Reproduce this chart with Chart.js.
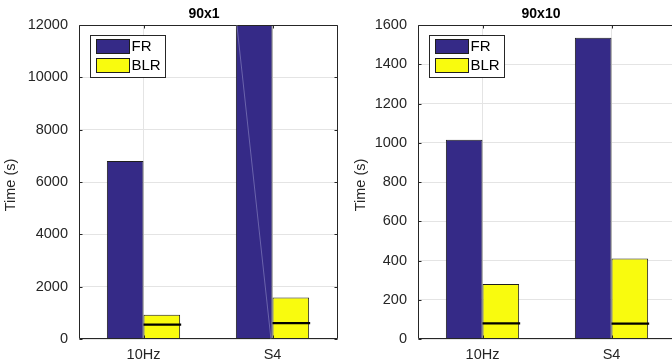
<!DOCTYPE html>
<html><head><meta charset="utf-8">
<script src="https://cdn.jsdelivr.net/npm/chart.js@4"></script>
<style>
html,body{margin:0;padding:0;background:#fff;overflow:hidden;width:672px;height:359px;}
#wrap{position:relative;width:672px;height:359px;overflow:hidden;background:#fff;}
canvas{position:absolute;top:0;}
</style></head><body>
<div id="wrap">
<canvas id="c1" width="340" height="359" style="left:0;width:340px;height:359px"></canvas>
<canvas id="c1o" width="340" height="359" style="left:0;width:340px;height:359px"></canvas>
<canvas id="c2" width="340" height="359" style="left:339px;width:340px;height:359px"></canvas>
<canvas id="c2o" width="340" height="359" style="left:339px;width:340px;height:359px"></canvas>
</div>
<script>
// ---- data ----
const categories = ['10Hz', 'S4'];
const seriesNames = ['FR', 'BLR'];
const fr90x1 = [6800, 13500];      // S4 bar exceeds the axis limit (clipped)
const blr90x1 = [930, 1590];
const blrMid90x1 = [550, 610];     // black marker line inside BLR bars
const fr90x10 = [1015, 1535];
const blr90x10 = [280, 410];
const blrMid90x10 = [80, 78];
const panelTitles = ['90x1', '90x10'];
const yMaxes = [12000, 1600];
const ySteps = [2000, 200];
const yLabelText = 'Time (s)';

// ---- styles ----
const FONT = '"Liberation Sans", Arial, Helvetica, sans-serif';
const INK = '#262626';
const GRID = '#e4e4e4';
const FR_COLOR = '#352a87';
const BLR_COLOR = '#f9fb0e';
const EDGE = '#1e1e1e';
const CAT_PCT = 0.568;
const BAR_FRAC = CAT_PCT / 2;   // width of one bar in category units
const MID_LEN = 0.292;
const PAD = { top: 25, right: 3, left: 0, bottom: 0 };
const Y_AXIS_W = 79, X_AXIS_H = 20;
const TICK_FONT = { family: FONT, size: 14.5 };

function decoPlugin(p) {
  return {
    id: 'deco',
    afterDatasetsDraw(chart) {
      const ctx = chart.ctx, a = chart.chartArea;
      const xs = chart.scales.x, ys = chart.scales.y;
      ctx.save();
      const L = Math.round(a.left) + 0.5, R = Math.round(a.right) + 0.5;
      const T = Math.round(a.top) + 0.5, B = Math.round(a.bottom) - 0.5;
      ctx.strokeStyle = INK; ctx.lineWidth = 1;
      ctx.beginPath();
      ctx.moveTo(L, T); ctx.lineTo(R, T); ctx.lineTo(R, B); ctx.lineTo(L, B); ctx.closePath();
      ctx.stroke();
      ctx.beginPath();
      ys.ticks.forEach(t => {
        const y = Math.round(ys.getPixelForValue(t.value)) + 0.5;
        ctx.moveTo(L, y); ctx.lineTo(L + 3, y);
        ctx.moveTo(R, y); ctx.lineTo(R - 3, y);
      });
      categories.forEach((c, i) => {
        const x = Math.round(xs.getPixelForValue(i)) + 0.5;
        ctx.moveTo(x, B); ctx.lineTo(x, B - 3);
        ctx.moveTo(x, T); ctx.lineTo(x, T + 3);
      });
      ctx.stroke();
      // title
      ctx.fillStyle = '#000';
      ctx.font = 'bold 14px ' + FONT;
      ctx.textAlign = 'center'; ctx.textBaseline = 'middle';
      ctx.fillText(p.title, (a.left + a.right) / 2 + p.titleDx, 14);
      // y label
      ctx.save();
      ctx.translate(p.ylabelX, (a.top + a.bottom) / 2 + 3);
      ctx.rotate(-Math.PI / 2);
      ctx.fillStyle = INK;
      ctx.font = '14.5px ' + FONT;
      ctx.fillText(yLabelText, 0, 0);
      ctx.restore();
      // legend
      const bx = Math.round(a.left) + 11.5, by = Math.round(a.top) + 10.5;
      ctx.fillStyle = '#fff';
      ctx.fillRect(bx, by, 75, 42);
      ctx.strokeStyle = INK;
      ctx.strokeRect(bx, by, 75, 42);
      chart.data.datasets.forEach((d, k) => {
        const sy = by + 4 + k * 19;
        ctx.fillStyle = d.backgroundColor;
        ctx.fillRect(bx + 6, sy, 33, 14);
        ctx.strokeStyle = EDGE;
        ctx.strokeRect(bx + 6, sy, 33, 14);
        ctx.fillStyle = '#000';
        ctx.font = '15px ' + FONT;
        ctx.textAlign = 'left'; ctx.textBaseline = 'middle';
        ctx.fillText(d.label, bx + 41, sy + 7.5);
      });
      ctx.restore();
    }
  };
}

function buildBars(id, fr, blr, idx, p) {
  const yMax = yMaxes[idx];
  const mk = (label, data, color) => ({ label, data, backgroundColor: color, borderColor: EDGE,
      borderWidth: 1, categoryPercentage: CAT_PCT, barPercentage: 1 });
  return new Chart(document.getElementById(id), {
    type: 'bar',
    data: { labels: categories, datasets: [mk(seriesNames[0], fr, FR_COLOR), mk(seriesNames[1], blr, BLR_COLOR)] },
    options: {
      responsive: false, animation: false, devicePixelRatio: 1,
      layout: { padding: PAD },
      plugins: { legend: { display: false }, tooltip: { enabled: false }, title: { display: false } },
      scales: {
        x: { type: 'category', offset: true,
             grid: { offset: false, color: GRID, drawTicks: false },
             border: { display: false },
             ticks: { color: INK, font: TICK_FONT, padding: 7, maxRotation: 0 },
             afterFit(s) { s.height = X_AXIS_H; } },
        y: { type: 'linear', min: 0, max: yMax,
             ticks: { stepSize: ySteps[idx], color: INK, font: TICK_FONT, padding: 11,
                      callback: v => String(v) },
             grid: { color: GRID, drawTicks: false },
             border: { display: false },
             afterFit(s) { s.width = Y_AXIS_W; } }
      }
    },
    plugins: [decoPlugin(p)]
  });
}

// overlay chart with the black marker lines (same plot area, linear x where category i sits at i+1)
function buildMarks(id, fr, mid, idx) {
  const yMax = yMaxes[idx];
  const datasets = [];
  mid.forEach((v, i) => {
    datasets.push({ label: '_mid' + i,
      data: [{ x: i + 1, y: v }, { x: i + 1 + MID_LEN, y: v }],
      borderColor: '#000', borderWidth: 2.2, pointRadius: 0, fill: false });
  });
  fr.forEach((v, i) => {
    if (v > yMax) {
      datasets.push({ label: '_diag' + i,
        data: [{ x: i + 1 - BAR_FRAC + 0.008, y: yMax }, { x: i + 1 - 0.012, y: 0 }],
        borderColor: 'rgba(205,205,240,0.5)', borderWidth: 0.7, pointRadius: 0, fill: false });
    }
  });
  return new Chart(document.getElementById(id), {
    type: 'line',
    data: { datasets },
    options: {
      responsive: false, animation: false, devicePixelRatio: 1,
      layout: { padding: { top: PAD.top, right: PAD.right, left: PAD.left + Y_AXIS_W, bottom: PAD.bottom + X_AXIS_H } },
      plugins: { legend: { display: false }, tooltip: { enabled: false } },
      scales: {
        x: { type: 'linear', min: 0.5, max: categories.length + 0.5, display: false },
        y: { type: 'linear', min: 0, max: yMax, display: false }
      }
    }
  });
}

buildBars('c1', fr90x1, blr90x1, 0, { title: panelTitles[0], titleDx: -4, ylabelX: 11 });
buildMarks('c1o', fr90x1, blrMid90x1, 0);
buildBars('c2', fr90x10, blr90x10, 1, { title: panelTitles[1], titleDx: -6, ylabelX: 22 });
buildMarks('c2o', fr90x10, blrMid90x10, 1);
</script>
</body></html>
